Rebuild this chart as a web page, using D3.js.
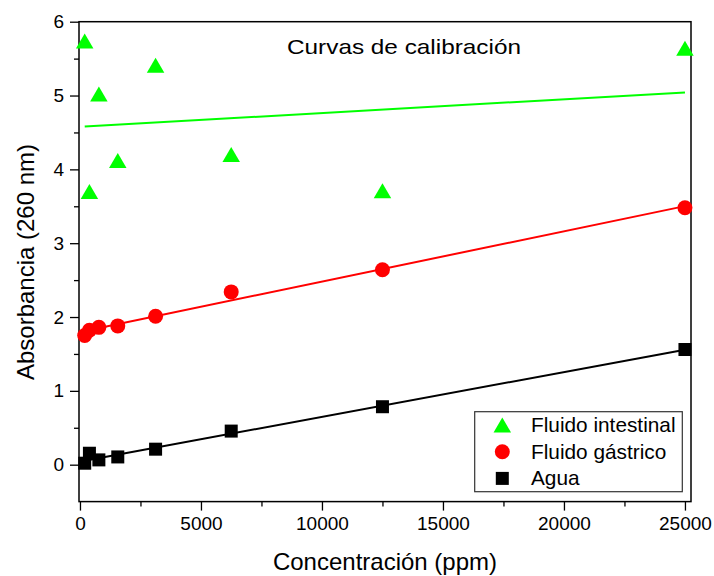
<!DOCTYPE html>
<html>
<head>
<meta charset="utf-8">
<script src="https://cdn.jsdelivr.net/npm/d3@7"></script>
<style>
  html, body { margin: 0; padding: 0; background: #fff; }
  svg { display: block; font-family: "Liberation Sans", Arial, sans-serif; }
</style>
</head>
<body>
<svg id="chart" width="714" height="576"></svg>
<script>
// Concentration series (ppm), serial 1:2 dilutions
const concentrations = [195.3125, 390.625, 781.25, 1562.5, 3125, 6250, 12500, 25000];

// Absorbance at 260 nm for each medium
const intestinal = [5.74, 3.70, 5.02, 4.12, 5.41, 4.20, 3.71, 5.64];
const gastric    = [1.75, 1.82, 1.86, 1.88, 2.01, 2.34, 2.64, 3.48];
const water      = [0.02, 0.155, 0.065, 0.105, 0.21, 0.455, 0.785, 1.56];

const seriesNames = ["Fluido intestinal", "Fluido gástrico", "Agua"];
const seriesColors = ["#00ff00", "#ff0000", "#000000"];
const seriesShapes = ["triangle", "circle", "square"];

const xMajorTicks = [0, 5000, 10000, 15000, 20000, 25000];
const xMinorTicks = [2500, 7500, 12500, 17500, 22500];
const yMajorTicks = [0, 1, 2, 3, 4, 5, 6];
const yMinorTicks = [0.5, 1.5, 2.5, 3.5, 4.5, 5.5];

const titleText = "Curvas de calibración";
const xTitle = "Concentración (ppm)";
const yTitle = "Absorbancia (260 nm)";

// ---- layout ----
const plot = { left: 79, right: 691, top: 21.7, bottom: 501.6 };

const svg = d3.select("#chart");

const x = d3.scaleLinear().domain([-40, 25250]).range([plot.left, plot.right]);
const y = d3.scaleLinear().domain([-0.5, 6]).range([plot.bottom, plot.top]);

// least-squares straight line through a series
function linearFit(xs, ys) {
  const n = xs.length;
  const mx = d3.mean(xs), my = d3.mean(ys);
  let sxy = 0, sxx = 0;
  for (let i = 0; i < n; i++) {
    sxy += (xs[i] - mx) * (ys[i] - my);
    sxx += (xs[i] - mx) * (xs[i] - mx);
  }
  const slope = sxy / sxx;
  return { slope, intercept: my - slope * mx };
}

// ---- axes ----
const tickFont = "19px";

const xAxis = svg.append("g")
  .attr("transform", `translate(0,${plot.bottom})`)
  .call(d3.axisBottom(x).tickValues(xMajorTicks).tickSize(9).tickSizeOuter(0).tickPadding(6)
    .tickFormat(d3.format("d")));
xAxis.select(".domain").remove();
xAxis.selectAll("line").attr("stroke", "#000").attr("stroke-width", 1.3);
xAxis.selectAll("text").attr("font-size", tickFont).attr("fill", "#000")
  .attr("font-family", "'Liberation Sans', Arial, sans-serif");

const xMinor = svg.append("g")
  .attr("transform", `translate(0,${plot.bottom})`)
  .call(d3.axisBottom(x).tickValues(xMinorTicks).tickSize(5).tickSizeOuter(0).tickFormat(""));
xMinor.select(".domain").remove();
xMinor.selectAll("line").attr("stroke", "#000").attr("stroke-width", 1.3);

const yAxis = svg.append("g")
  .attr("transform", `translate(${plot.left},0)`)
  .call(d3.axisLeft(y).tickValues(yMajorTicks).tickSize(9).tickSizeOuter(0).tickPadding(6)
    .tickFormat(d3.format("d")));
yAxis.select(".domain").remove();
yAxis.selectAll("line").attr("stroke", "#000").attr("stroke-width", 1.3);
yAxis.selectAll("text").attr("font-size", tickFont).attr("fill", "#000")
  .attr("font-family", "'Liberation Sans', Arial, sans-serif");

const yMinor = svg.append("g")
  .attr("transform", `translate(${plot.left},0)`)
  .call(d3.axisLeft(y).tickValues(yMinorTicks).tickSize(5).tickSizeOuter(0).tickFormat(""));
yMinor.select(".domain").remove();
yMinor.selectAll("line").attr("stroke", "#000").attr("stroke-width", 1.3);

// frame
svg.append("rect")
  .attr("x", plot.left).attr("y", plot.top)
  .attr("width", plot.right - plot.left).attr("height", plot.bottom - plot.top)
  .attr("fill", "none").attr("stroke", "#000").attr("stroke-width", 1.5);

// ---- markers ----
function drawMarker(g, shape, cx, cy, color) {
  if (shape === "triangle") {
    const w = 17.5, h = 15;
    g.append("path")
      .attr("d", `M${cx},${cy - h / 2}L${cx + w / 2},${cy + h / 2}L${cx - w / 2},${cy + h / 2}Z`)
      .attr("fill", color);
  } else if (shape === "circle") {
    g.append("circle").attr("cx", cx).attr("cy", cy).attr("r", 7.5).attr("fill", color);
  } else {
    const s = 13;
    g.append("rect").attr("x", cx - s / 2).attr("y", cy - s / 2)
      .attr("width", s).attr("height", s).attr("fill", color);
  }
}

const allSeries = [intestinal, gastric, water];
const marks = svg.append("g");

// fit lines first, markers on top
allSeries.forEach((vals, i) => {
  const fit = linearFit(concentrations, vals);
  const x0 = concentrations[0], x1 = concentrations[concentrations.length - 1];
  marks.append("line")
    .attr("x1", x(x0)).attr("y1", y(fit.intercept + fit.slope * x0))
    .attr("x2", x(x1)).attr("y2", y(fit.intercept + fit.slope * x1))
    .attr("stroke", seriesColors[i]).attr("stroke-width", 2);
});

// draw water first so the other series sit above it
[2, 1, 0].forEach(i => {
  const g = marks.append("g");
  allSeries[i].forEach((v, k) => {
    drawMarker(g, seriesShapes[i], x(concentrations[k]), y(v), seriesColors[i]);
  });
});

// ---- legend ----
const legend = svg.append("g");
legend.append("rect")
  .attr("x", 474.7).attr("y", 411.7).attr("width", 207.6).attr("height", 80)
  .attr("fill", "#fff").attr("stroke", "#333").attr("stroke-width", 1.2);
seriesNames.forEach((name, i) => {
  const ry = 425 + i * 26.7;
  drawMarker(legend, seriesShapes[i], 502.3, ry, seriesColors[i]);
  legend.append("text")
    .attr("x", 531).attr("y", ry + 7)
    .attr("font-size", "20.8px").attr("fill", "#000")
    .text(name);
});

// ---- titles ----
svg.append("text")
  .attr("x", 287).attr("y", 54)
  .attr("font-size", "21px").attr("fill", "#000")
  .attr("textLength", 234).attr("lengthAdjust", "spacingAndGlyphs")
  .text(titleText);

svg.append("text")
  .attr("x", 385).attr("y", 570)
  .attr("text-anchor", "middle")
  .attr("font-size", "24px").attr("fill", "#000")
  .text(xTitle);

svg.append("text")
  .attr("transform", "translate(33.5,262) rotate(-90)")
  .attr("text-anchor", "middle")
  .attr("font-size", "24px").attr("fill", "#000")
  .text(yTitle);
</script>
</body>
</html>
